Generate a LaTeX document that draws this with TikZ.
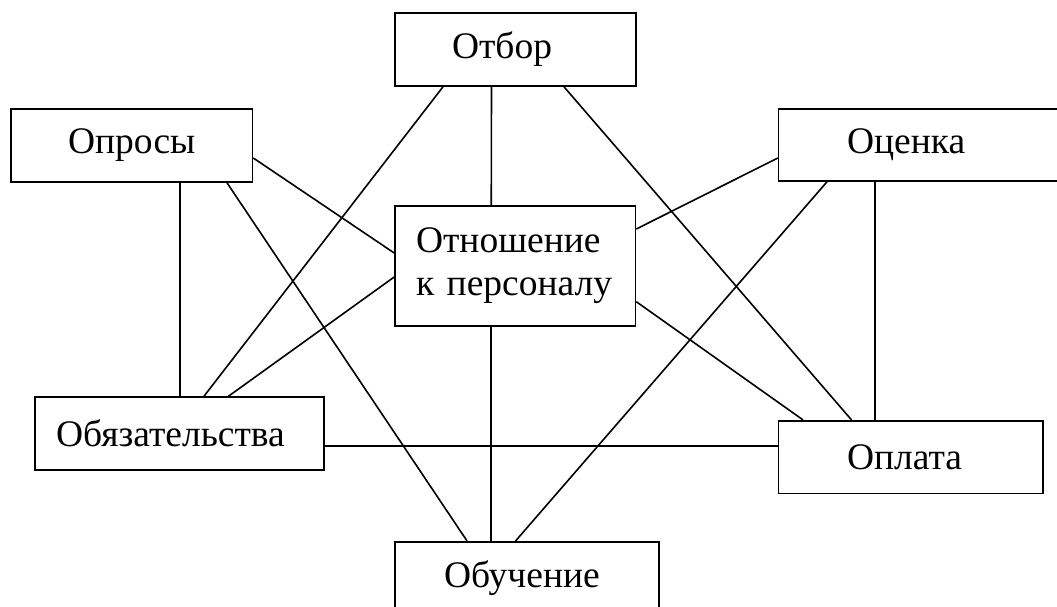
\documentclass[tikz,border=0pt]{standalone}
\usepackage{fontspec}
\setmainfont{Liberation Serif}

\tikzset{
  blok/.style={draw, line width=1.6pt, inner ysep=0pt, minimum height=73pt,
    align=left, font=\fontsize{37.5}{43}\selectfont},
  svyaz/.style={line width=1.6pt}
}

\begin{document}
\begin{tikzpicture}[x=1pt, y=-1pt]

\useasboundingbox (0,0) rectangle (1057,606);
\clip (0,0) rectangle (1057,606);

% Draw the boxes
\node [blok, inner xsep=57pt, text width=127pt] (otbor) at (515.5, 49.5) {Отбор};
\node [blok, inner xsep=57pt, text width=127.5pt] (oprosy) at (131.75, 145.5) {Опросы};
\node [blok, inner xsep=68.4pt, text width=200pt, minimum height=72pt] (ocenka) at (947, 145) {Оценка};
\node [blok, inner xsep=21pt, text width=198.5pt, minimum height=120pt] (otnosh) at (515.25, 265.7) {Отношение\\к персоналу};
\node [blok, inner xsep=21pt, text width=247pt] (obyaz) at (179.5, 433.5) {Обязательства};
\node [blok, inner xsep=68.4pt, text width=127.6pt, minimum height=72.6pt] (oplata) at (910.8, 457) {Оплата};
\node [blok, inner xsep=49pt, text width=166pt] (obuch) at (527, 578.2) {Обучение};

% Draw the links between the boxes
\draw [svyaz] ([xshift=-24pt]otbor.south) -- ([xshift=-24pt]otnosh.north);
\draw [svyaz] ([xshift=-72.5pt]otbor.south) -- ([xshift=24.5pt]obyaz.north);
\draw [svyaz] ([xshift=48.5pt]otbor.south) -- ([xshift=-59.3pt]oplata.north);

\draw [svyaz] ([yshift=-12.5pt]oprosy.east) -- ([yshift=12.7pt]otnosh.west);
\draw [svyaz] ([xshift=48.25pt]oprosy.south) -- ([xshift=0.5pt]obyaz.north);
\draw [svyaz] ([xshift=95.25pt]oprosy.south) -- ([xshift=-60pt]obuch.north);

\draw [svyaz] ([yshift=-13pt]ocenka.west) -- ([yshift=36.7pt]otnosh.east);
\draw [svyaz] ([xshift=-120pt]ocenka.south) -- ([xshift=-11.4pt]obuch.north);
\draw [svyaz] ([xshift=-72pt]ocenka.south) -- ([xshift=-35.8pt]oplata.north);

\draw [svyaz] ([yshift=-11.3pt]otnosh.west) -- ([xshift=49pt]obyaz.north);
\draw [svyaz] ([yshift=-36pt]otnosh.east) -- ([xshift=-107.8pt]oplata.north);
\draw [svyaz] ([xshift=-24.25pt]otnosh.south) -- ([xshift=-36pt]obuch.north);

\draw [svyaz] ([yshift=-12.2pt]obyaz.east) -- ([yshift=11.3pt]oplata.west);

\end{tikzpicture}
\end{document}
